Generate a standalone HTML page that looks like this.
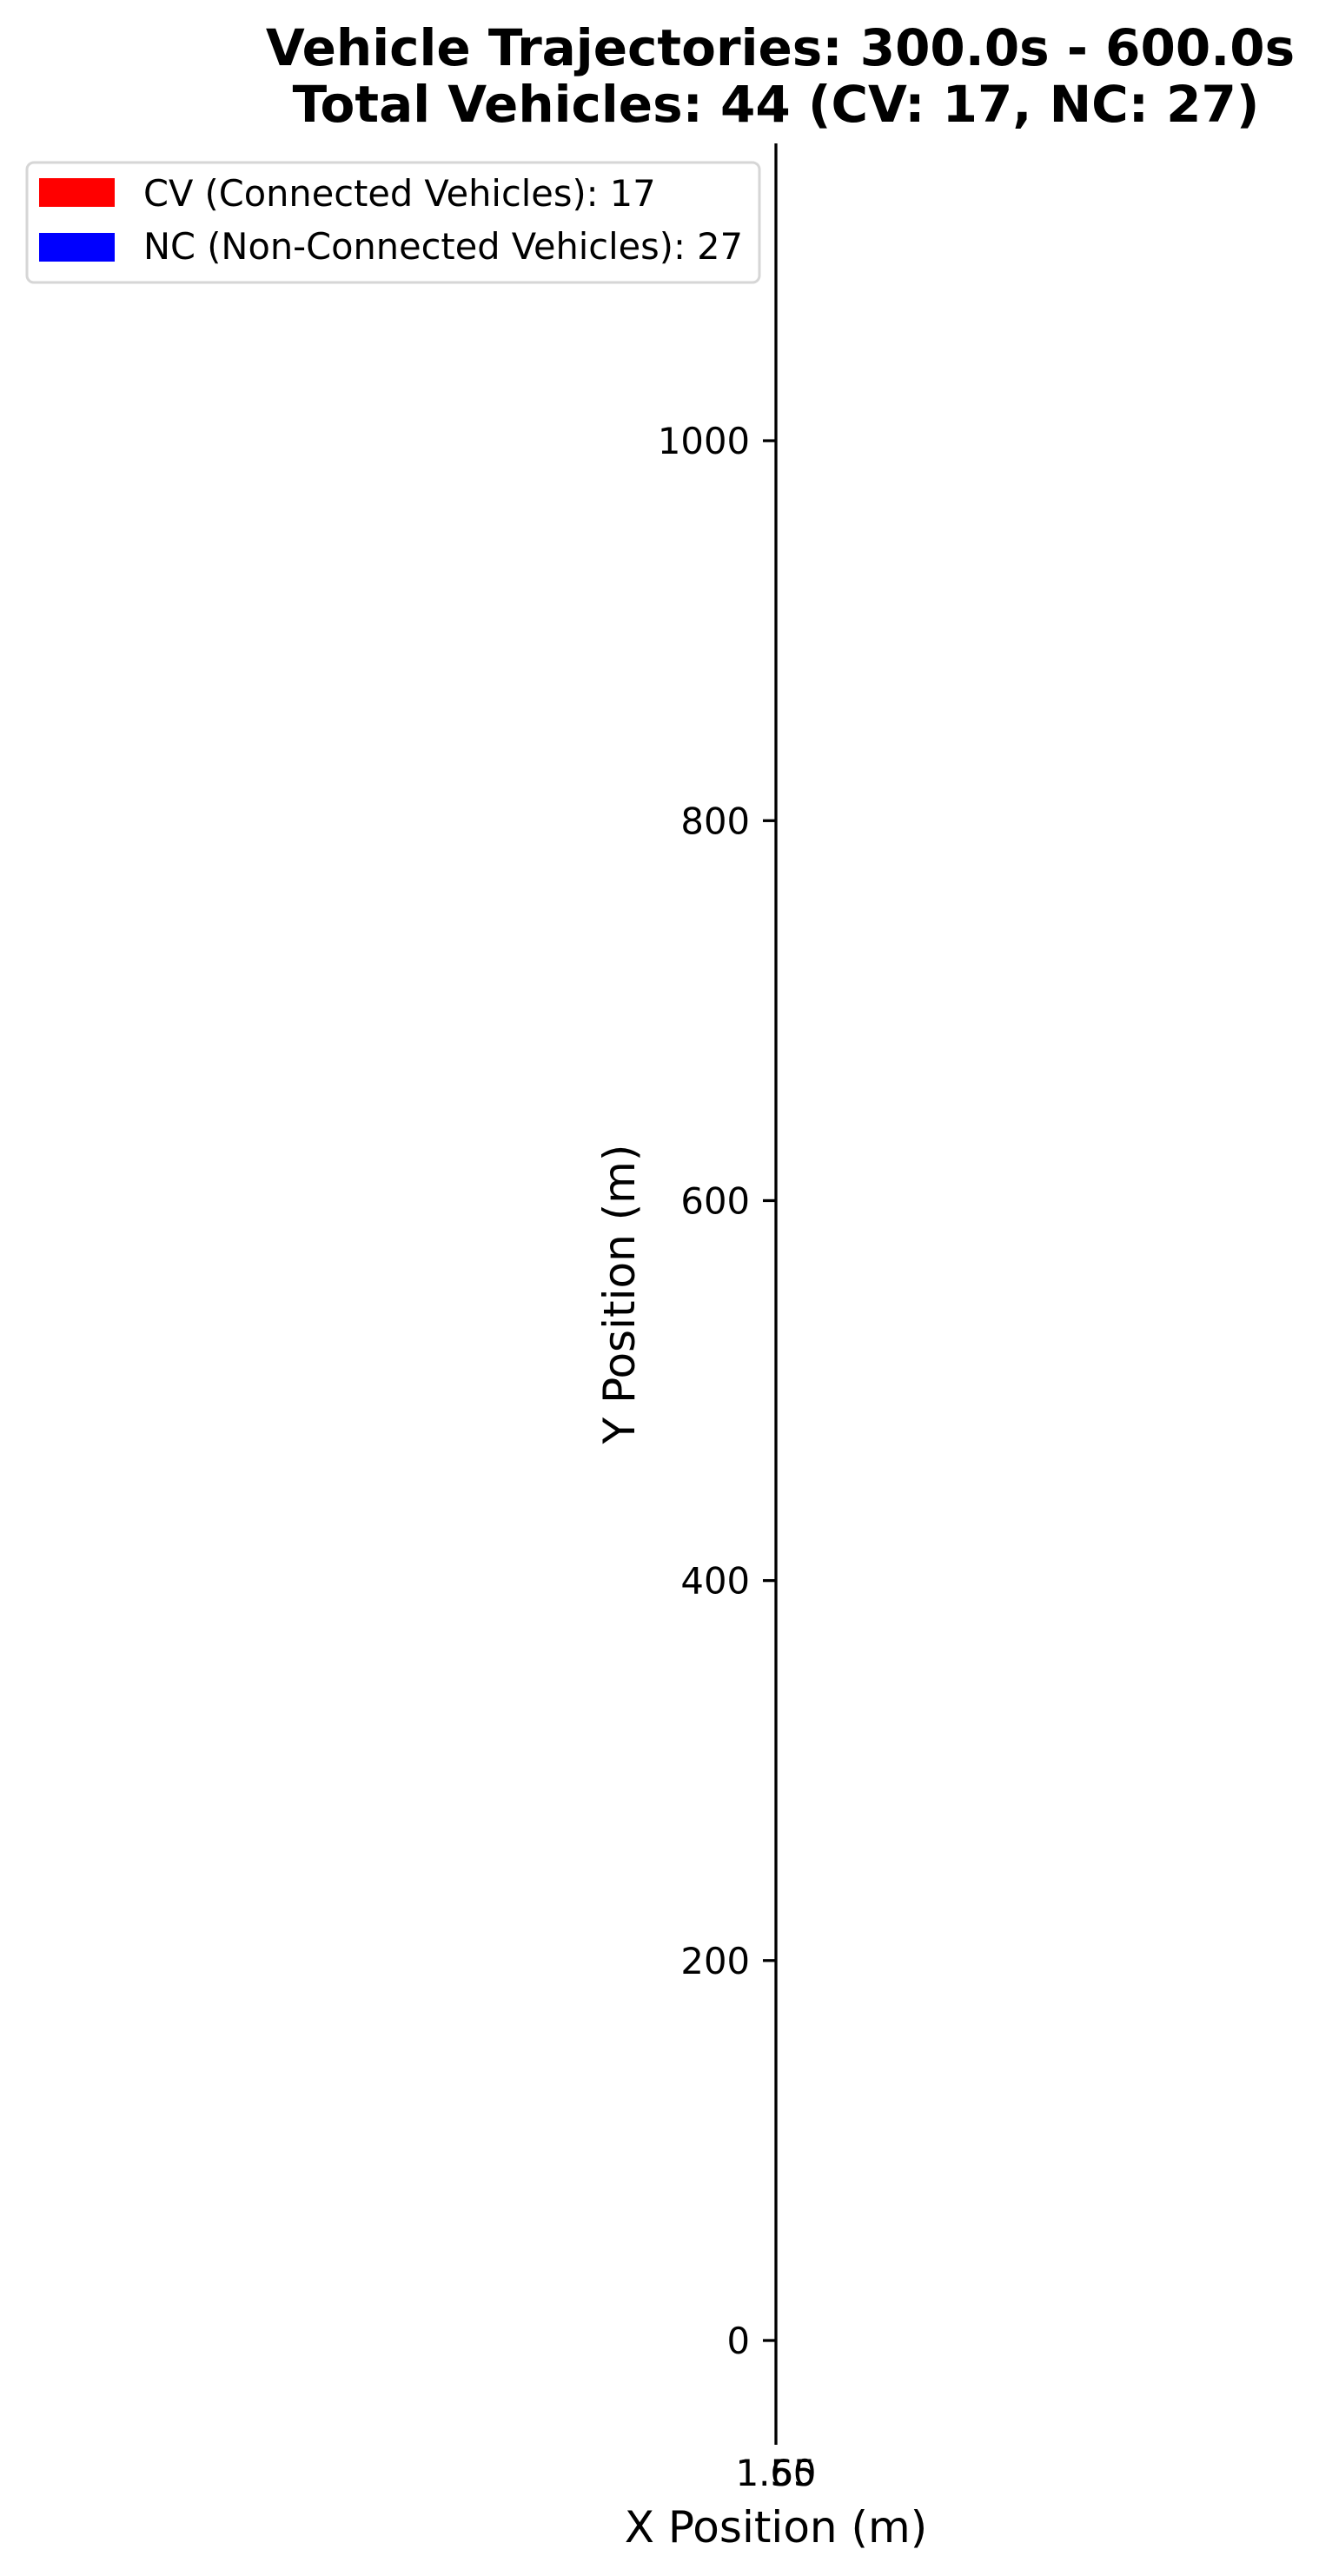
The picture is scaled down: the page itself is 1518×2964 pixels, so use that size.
<!DOCTYPE html>
<html><head><meta charset="utf-8">
<style>
html,body{margin:0;padding:0;background:#fff;}
svg{display:block;font-family:"DejaVu Sans","Liberation Sans",sans-serif;}
</style></head>
<body>
<svg id="chart" width="1518" height="2964" viewBox="0 0 1518 2964">
  <text x="898" y="75" text-anchor="middle" font-size="58" font-weight="bold">Vehicle Trajectories: 300.0s - 600.0s</text>
  <text x="893" y="140" text-anchor="middle" font-size="58" font-weight="bold">Total Vehicles: 44 (CV: 17, NC: 27)</text>
  <g id="axes"></g>
  <text x="893" y="2925" text-anchor="middle" font-size="50">X Position (m)</text>
  <text transform="translate(730,1489) rotate(-90)" text-anchor="middle" font-size="50">Y Position (m)</text>
  <g>
    <rect x="31" y="187" width="843" height="138" rx="8" fill="#fff" stroke="#d6d6d6" stroke-width="3"/>
    <rect x="45" y="205" width="87" height="33" fill="#ff0000"/>
    <text x="165" y="237" font-size="41.5">CV (Connected Vehicles): 17</text>
    <rect x="45" y="268" width="87" height="33" fill="#0000ff"/>
    <text x="165" y="298" font-size="41.5">NC (Non-Connected Vehicles): 27</text>
  </g>
</svg>
<script>
const yTicks = [0, 200, 400, 600, 800, 1000];
const xTickLabels = ["1.55", "1.60"];
const yDomain = [-54.9, 1156.5];
const NS = "http://www.w3.org/2000/svg";
const axisX = 893, axisTop = 165, axisBottom = 2813;
function yScale(v){ return axisBottom - (v - yDomain[0]) / (yDomain[1] - yDomain[0]) * (axisBottom - axisTop); }
const axesGroup = document.getElementById('axes');
const spine = document.createElementNS(NS, 'line');


spine.setAttribute('x1', axisX); spine.setAttribute('x2', axisX);
spine.setAttribute('y1', axisTop); spine.setAttribute('y2', axisBottom);
spine.setAttribute('stroke', '#000'); spine.setAttribute('stroke-width', '3.3');
axesGroup.appendChild(spine);
yTicks.forEach(v => {
  const y = yScale(v);
  const t = document.createElementNS(NS, 'line');
  
  
  t.setAttribute('x1', axisX - 15); t.setAttribute('x2', axisX);
  t.setAttribute('y1', y); t.setAttribute('y2', y);
  t.setAttribute('stroke', '#000'); t.setAttribute('stroke-width', '3.3');
  axesGroup.appendChild(t);
  const l = document.createElementNS(NS, 'text');
  
  
  l.setAttribute('x', axisX - 30); l.setAttribute('y', y + 15);
  l.setAttribute('text-anchor', 'end'); l.setAttribute('font-size', '41.7');
  l.textContent = String(v);
  axesGroup.appendChild(l);
});
xTickLabels.forEach(s => {
  const l = document.createElementNS(NS, 'text');
  
  
  l.setAttribute('x', axisX); l.setAttribute('y', 2860);
  l.setAttribute('text-anchor', 'middle'); l.setAttribute('font-size', '41.7');
  l.textContent = s;
  axesGroup.appendChild(l);
});
</script>
</body></html>
